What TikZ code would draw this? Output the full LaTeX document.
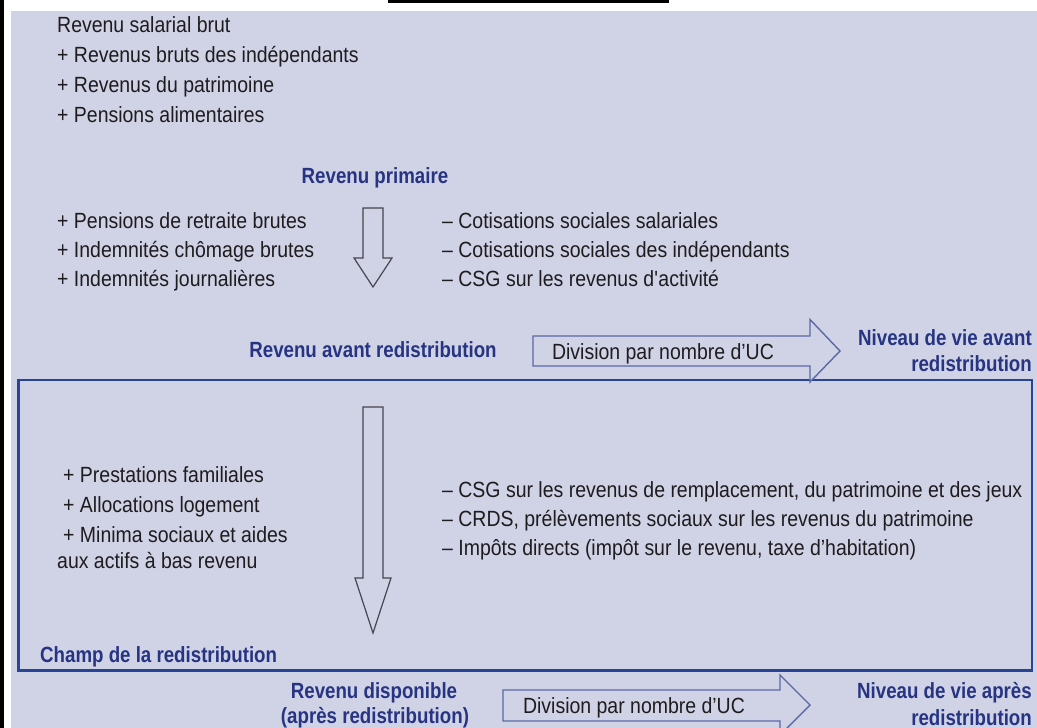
\documentclass[tikz,border=0pt]{standalone}
\usepackage{fontspec}
\setmainfont{Liberation Sans}[UprightFeatures={FakeStretch=0.885}, BoldFeatures={FakeStretch=0.85}]
\definecolor{lav}{RGB}{208,210,230}
\definecolor{bluetxt}{RGB}{38,52,130}
\definecolor{boxblue}{RGB}{40,68,150}
\definecolor{arrgray}{RGB}{70,70,78}
\definecolor{harr}{RGB}{90,105,165}
\definecolor{ink}{RGB}{30,28,30}
\begin{document}
\begin{tikzpicture}[x=1pt,y=-1pt,
  txt/.style={inner sep=0pt, anchor=base west, font=\fontsize{22}{26}\selectfont, text=ink},
  btxt/.style={inner sep=0pt, font=\fontsize{22}{26}\selectfont\bfseries, text=bluetxt},
  downarrow/.style={draw=arrgray, line width=1.2pt, fill=lav, line join=miter},
  sidearrow/.style={draw=harr, line width=1.4pt, fill=lav, line join=miter}]
\useasboundingbox (0,0) rectangle (1037,728);
\clip (0,0) rectangle (1037,728);
% background
\fill[white] (0,0) rectangle (1037,728);
\fill[lav] (11,11) rectangle (1037,728);
\fill[black] (0,0) rectangle (3.6,728);
\fill[black] (388,0) rectangle (669,3.2);
% redistribution box
\draw[boxblue, line width=2.6pt] (18.5,380) rectangle (1032,670.5);
% top list
\node[txt] (l1) at (57,32) {Revenu salarial brut};
\node[txt] (l2) at (57,62) {+ Revenus bruts des indépendants};
\node[txt] (l3) at (57,92) {+ Revenus du patrimoine};
\node[txt] (l4) at (57,122) {+ Pensions alimentaires};
% revenu primaire
\node[btxt, anchor=base] (rp) at (375,183) {Revenu primaire};
\node[txt] (p1) at (57,228) {+ Pensions de retraite brutes};
\node[txt] (p2) at (57,257) {+ Indemnités chômage brutes};
\node[txt] (p3) at (57,286) {+ Indemnités journalières};
\node[txt] (m1) at (442,228) {– Cotisations sociales salariales};
\node[txt] (m2) at (442,257) {– Cotisations sociales des indépendants};
\node[txt] (m3) at (442,286) {– CSG sur les revenus d\textquotesingle activité};
\draw[downarrow] (363,208) -- (383,208) -- (383,258) -- (392,258) -- (373,287) -- (354,258) -- (363,258) -- cycle;
% avant redistribution
\node[btxt, anchor=base] (rav) at (373,357) {Revenu avant redistribution};
\draw[sidearrow] (533,336) -- (810,336) -- (810,319.5) -- (840,351) -- (810,382) -- (810,366) -- (533,366) -- cycle;
\node[txt, anchor=base] (d1) at (663,359) {Division par nombre d’UC};
\node[btxt, anchor=base east] (n1a) at (1032,345) {Niveau de vie avant};
\node[btxt, anchor=base east] (n1b) at (1032,371) {redistribution};
% inside box
\draw[downarrow] (363,407) -- (383,407) -- (383,578) -- (391,578) -- (373,633) -- (355,578) -- (363,578) -- cycle;
\node[txt] (a1) at (63,482) {+ Prestations familiales};
\node[txt] (a2) at (63,512) {+ Allocations logement};
\node[txt] (a3) at (63,542) {+ Minima sociaux et aides};
\node[txt] (a4) at (57,568) {aux actifs à bas revenu};
\node[txt] (c1) at (442,497) {– CSG sur les revenus de remplacement, du patrimoine et des jeux};
\node[txt] (c2) at (442,526) {– CRDS, prélèvements sociaux sur les revenus du patrimoine};
\node[txt] (c3) at (442,555) {– Impôts directs (impôt sur le revenu, taxe d’habitation)};
\node[btxt, anchor=base west] (champ) at (40,662) {Champ de la redistribution};
% bottom row
\node[btxt, anchor=base] (rd1) at (374,698) {Revenu disponible};
\node[btxt, anchor=base] (rd2) at (375,723) {(après redistribution)};
\draw[sidearrow] (503,690) -- (780,690) -- (780,675) -- (810,705) -- (780,735) -- (780,721) -- (503,721) -- cycle;
\node[txt, anchor=base] (d2) at (634,713) {Division par nombre d’UC};
\node[btxt, anchor=base east] (n2a) at (1032,698) {Niveau de vie après};
\node[btxt, anchor=base east] (n2b) at (1032,725) {redistribution};
\end{tikzpicture}
\end{document}
